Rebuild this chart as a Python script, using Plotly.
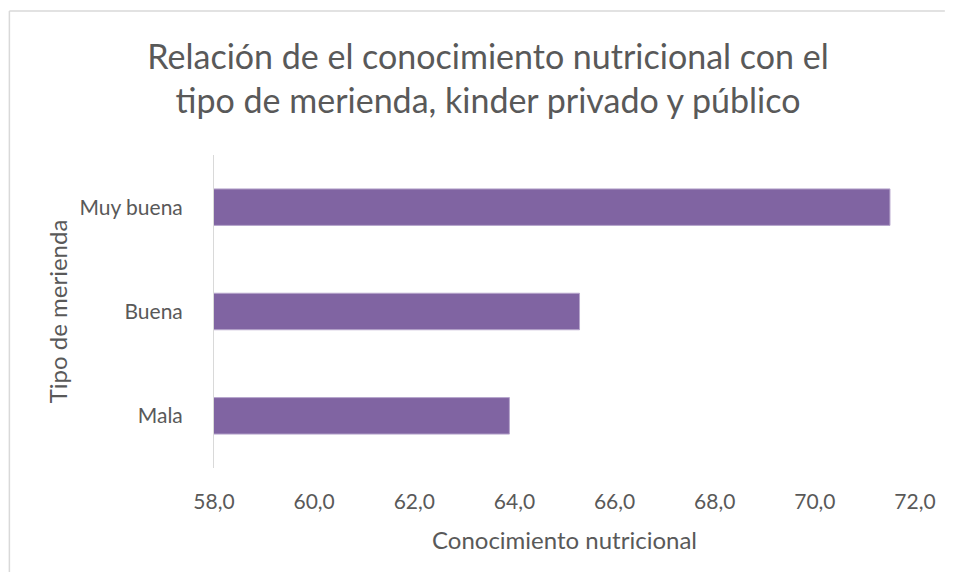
import plotly.graph_objects as go

# data
categories = ["Mala", "Buena", "Muy buena"]
values = [63.9, 65.3, 71.5]
x_ticks = [58, 60, 62, 64, 66, 68, 70, 72]

TITLE = "Relación de el conocimiento nutricional con el<br>tipo de merienda, kinder privado y público"
FONT = "Lato, 'Open Sans', sans-serif"
GREY = "#595959"
BORDER = "#d9d9d9"

# page body has an 8px margin: keep the figure inside the window so no scrollbar shows
W, H = 940, 564
L, T = 206, 147
PW, PH = 704, 313
R, B = W - L - PW, H - T - PH

fig = go.Figure(go.Bar(
    x=values, y=categories, orientation="h",
    marker=dict(color="#8064a2", line=dict(color="#b7a6cc", width=1)),
    hoverinfo="x+y", showlegend=False))

# chart-area border: only the left and top edges fall inside the window
x_left = (0.5 - L) / PW
x_right = (W - L) / PW
y_top = 1 + (T - 3) / PH
y_bottom = -B / PH
fig.add_shape(type="line", xref="paper", yref="paper", x0=x_left, x1=x_left, y0=y_bottom, y1=y_top,
              line=dict(color=BORDER, width=1.5), layer="below")
fig.add_shape(type="line", xref="paper", yref="paper", x0=x_left, x1=x_right, y0=y_top, y1=y_top,
              line=dict(color=BORDER, width=1.5), layer="below")

fig.update_layout(
    width=W, height=H,
    paper_bgcolor="white", plot_bgcolor="white",
    font=dict(family=FONT, color=GREY),
    separators=",.",
    title=dict(text=TITLE, x=480 / W, xanchor="center", yref="container",
               y=1 - 61 / H, yanchor="middle",
               font=dict(size=34, color=GREY, family=FONT)),
    bargap=0.65,
    margin=dict(l=L, r=R, t=T, b=B),
    xaxis=dict(range=[58, 72], tickvals=x_ticks, tickformat=".1f",
               showgrid=False, zeroline=False, showline=False,
               ticklabelstandoff=19,
               tickfont=dict(size=21, color=GREY),
               title=dict(text="Conocimiento nutricional", font=dict(size=24, color=GREY), standoff=20)),
    yaxis=dict(showgrid=False, zeroline=False, showline=True, linecolor=BORDER, linewidth=1,
               ticks="", ticklabelstandoff=26,
               tickfont=dict(size=21, color=GREY),
               title=dict(text="Tipo de merienda", font=dict(size=24, color=GREY), standoff=4)),
)

fig.write_html("out.html")
